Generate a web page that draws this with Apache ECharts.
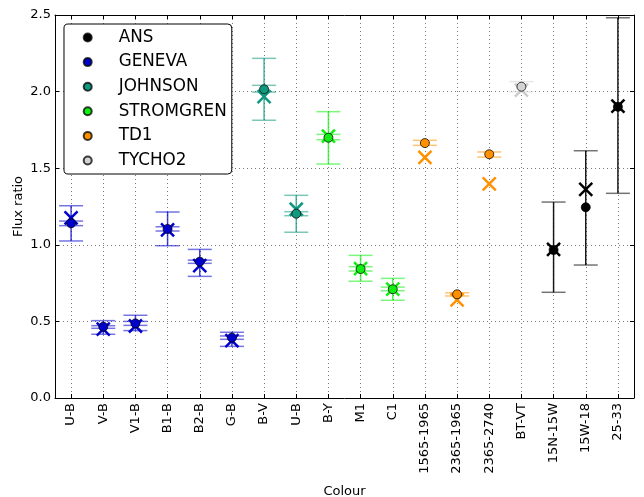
<!DOCTYPE html>
<html>
<head>
<meta charset="utf-8">
<script src="https://cdn.jsdelivr.net/npm/echarts@6/dist/echarts.min.js"></script>
<style>html,body{margin:0;padding:0;background:#fff}#chart{width:644px;height:497px}</style>
</head>
<body>
<div id="chart"></div>
<script>
// ---- data ----
const categories = ['U-B','V-B','V1-B','B1-B','B2-B','G-B','B-V','U-B','B-Y','M1','C1','1565-1965','2365-1965','2365-2740','BT-VT','15N-15W','15W-18','25-33'];
const groups = ['ANS','GENEVA','JOHNSON','STROMGREN','TD1','TYCHO2'];
const groupOf = [1,1,1,1,1,1,2,2,3,3,3,4,4,4,5,0,0,0];
const observed = [1.140,0.465,0.487,1.103,0.890,0.394,2.015,1.203,1.699,0.842,0.710,1.664,0.677,1.591,2.032,0.966,1.245,1.901];
const model    = [1.175,0.450,0.470,1.097,0.864,0.374,1.967,1.232,1.710,0.845,0.710,1.571,0.640,1.397,2.010,0.970,1.362,1.905];
const errLow   = [1.025,0.416,0.440,0.994,0.794,0.337,1.813,1.082,1.527,0.762,0.638,null,null,null,null,0.690,0.868,1.336];
const errHigh  = [1.255,0.505,0.540,1.214,0.970,0.429,2.217,1.323,1.869,0.931,0.781,null,null,null,null,1.279,1.614,2.482];
const fineLow  = [1.125,0.455,0.474,1.090,0.879,0.383,1.997,1.190,1.686,0.829,0.700,1.649,0.666,1.573,2.000,null,null,null];
const fineHigh = [1.155,0.472,0.500,1.118,0.900,0.405,2.041,1.216,1.721,0.857,0.724,1.682,0.687,1.606,2.065,null,null,null];

// ---- style ----
const colors = ['#000000','#0000cc','#119980','#11ee11','#ff9100','#d3d3d3'];
const xColors = ['#000000','#0000cc','#119980','#11ee11','#ff9100','#cccccc'];
const font = 'DejaVu Sans';
const tickIdx = categories.map((c,i)=>i);

function rgba(hex, a){
  const n = parseInt(hex.slice(1),16);
  return 'rgba('+((n>>16)&255)+','+((n>>8)&255)+','+(n&255)+','+a+')';
}

const bigData = [], fineData = [], modelData = [];
categories.forEach((c,i)=>{
  if (errLow[i] != null) bigData.push([i, errLow[i], errHigh[i], groupOf[i]]);
  if (fineLow[i] != null) fineData.push([i, fineLow[i], fineHigh[i], groupOf[i]]);
  modelData.push([i, model[i], groupOf[i]]);
});

const CAP = 12;
function renderBig(params, api){
  const i = api.value(0), g = api.value(3);
  const p1 = api.coord([i, api.value(1)]), p2 = api.coord([i, api.value(2)]);
  const col = colors[g];
  return {type:'group', children:[
    {type:'line', shape:{x1:p1[0],y1:p1[1],x2:p2[0],y2:p2[1]}, style:{stroke:rgba(col,g===0?0.9:0.75), lineWidth:1.5}},
    {type:'line', shape:{x1:p1[0]-CAP,y1:p1[1],x2:p1[0]+CAP,y2:p1[1]}, style:{stroke:rgba(col,0.55), lineWidth:1.5}},
    {type:'line', shape:{x1:p2[0]-CAP,y1:p2[1],x2:p2[0]+CAP,y2:p2[1]}, style:{stroke:rgba(col,0.55), lineWidth:1.5}}
  ]};
}
function renderFine(params, api){
  const i = api.value(0), g = api.value(3);
  const p1 = api.coord([i, api.value(1)]), p2 = api.coord([i, api.value(2)]);
  const col = colors[g];
  return {type:'group', children:[
    {type:'line', shape:{x1:p1[0],y1:p1[1],x2:p2[0],y2:p2[1]}, style:{stroke:rgba(col,0.55), lineWidth:1}},
    {type:'line', shape:{x1:p1[0]-CAP,y1:p1[1],x2:p1[0]+CAP,y2:p1[1]}, style:{stroke:rgba(col,0.55), lineWidth:1.5}},
    {type:'line', shape:{x1:p2[0]-CAP,y1:p2[1],x2:p2[0]+CAP,y2:p2[1]}, style:{stroke:rgba(col,0.55), lineWidth:1.5}}
  ]};
}
const XS = 6.5;
function renderX(params, api){
  const i = api.value(0), g = api.value(2);
  const p = api.coord([i, api.value(1)]);
  const col = xColors[g];
  return {type:'group', children:[
    {type:'line', shape:{x1:p[0]-XS,y1:p[1]-XS,x2:p[0]+XS,y2:p[1]+XS}, style:{stroke:col, lineWidth:2.5}},
    {type:'line', shape:{x1:p[0]-XS,y1:p[1]+XS,x2:p[0]+XS,y2:p[1]-XS}, style:{stroke:col, lineWidth:2.5}}
  ]};
}

const gridLine = {show:true, lineStyle:{color:'#7a7a7a', width:1, type:[1,3]}};
const series = [
  {type:'custom', name:'err', renderItem:renderBig, data:bigData, z:2, silent:true},
  {type:'custom', name:'fine', renderItem:renderFine, data:fineData, z:2, silent:true},
  {type:'custom', name:'model', renderItem:renderX, data:modelData, z:3, silent:true}
];
groups.forEach((g,gi)=>{
  const d = [];
  categories.forEach((c,i)=>{ if (groupOf[i]===gi) d.push([i, observed[i]]); });
  series.push({type:'scatter', name:g, data:d, symbol:'circle', symbolSize:9, z:4,
    itemStyle:{color:colors[gi], borderColor:'rgba(0,0,0,0.75)', borderWidth:1, opacity:1}});
});

const chart = echarts.init(document.getElementById('chart'), null, {renderer:'canvas'});
chart.setOption({
  animation:false,
  backgroundColor:'#fff',
  textStyle:{fontFamily:font},
  grid:{left:55, right:10, top:15, bottom:99, containLabel:false, outerBoundsMode:'none'},
  legend:{
    data:groups.map(g=>({name:g, icon:'circle'})),
    orient:'vertical', left:64, top:24, itemWidth:8, itemHeight:8, itemGap:7.6,
    padding:[5,5,5,18.7], backgroundColor:'#fff', borderColor:'#000', borderWidth:1, borderRadius:4,
    textStyle:{fontFamily:font, fontSize:16.8, color:'#000', lineHeight:16, padding:[0,0,0,22]},
    selectedMode:false, z:10
  },
  xAxis:[
    {type:'value', min:-0.5, max:17.5, position:'bottom',
     axisLine:{show:true, onZero:false, lineStyle:{color:'#000', width:1}},
     axisTick:{show:true, inside:true, length:4, customValues:tickIdx, lineStyle:{color:'#000'}},
     axisLabel:{show:true, customValues:tickIdx, rotate:90, margin:5, fontSize:13, color:'#000', fontFamily:font,
       formatter:v=>categories[Math.round(v)]},
     splitLine:gridLine,
     name:'Colour', nameLocation:'middle', nameGap:87, nameMoveOverlap:false,
     nameTextStyle:{fontSize:13, color:'#000', fontFamily:font}},
    {type:'value', min:-0.5, max:17.5, position:'top',
     axisLine:{show:true, onZero:false, lineStyle:{color:'#000', width:1}},
     axisTick:{show:true, inside:true, length:4, customValues:tickIdx, lineStyle:{color:'#000'}},
     axisLabel:{show:false}, splitLine:{show:false}}
  ],
  yAxis:[
    {type:'value', min:0, max:2.5, interval:0.5, position:'left',
     axisLine:{show:true, onZero:false, lineStyle:{color:'#000', width:1}},
     axisTick:{show:true, inside:true, length:4, lineStyle:{color:'#000'}},
     axisLabel:{show:true, margin:4, fontSize:13, color:'#000', fontFamily:font, formatter:v=>v.toFixed(1)},
     splitLine:gridLine,
     name:'Flux ratio', nameLocation:'middle', nameGap:30, nameMoveOverlap:false,
     nameTextStyle:{fontSize:13, color:'#000', fontFamily:font}},
    {type:'value', min:0, max:2.5, interval:0.5, position:'right',
     axisLine:{show:true, onZero:false, lineStyle:{color:'#000', width:1}},
     axisTick:{show:true, inside:true, length:4, lineStyle:{color:'#000'}},
     axisLabel:{show:false}, splitLine:{show:false}}
  ],
  series:series
});
</script>
</body>
</html>
